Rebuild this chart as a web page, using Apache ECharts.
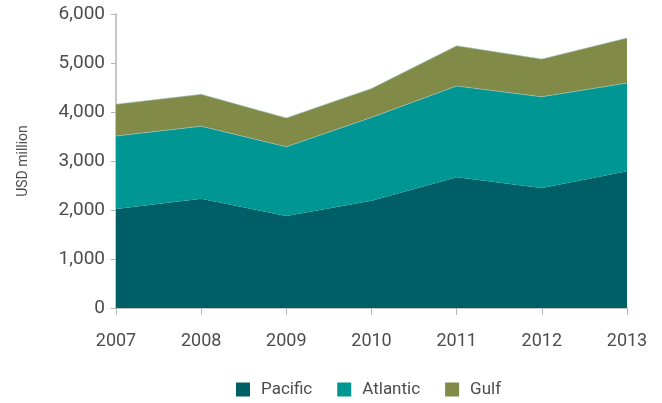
<!DOCTYPE html>
<html>
<head>
<meta charset="utf-8">
<script src="https://cdn.jsdelivr.net/npm/echarts@6/dist/echarts.min.js"></script>
<style>
  html, body { margin: 0; padding: 0; background: #fff; }
  #chart { width: 662px; height: 403px; }
</style>
</head>
<body>
<div id="chart"></div>
<script>
// --- data ---
const years = ['2007', '2008', '2009', '2010', '2011', '2012', '2013']
const pacific = [2020, 2230, 1880, 2190, 2670, 2450, 2790]
const atlantic = [1490, 1480, 1410, 1700, 1860, 1860, 1800]
const gulf = [650, 650, 590, 590, 820, 770, 920]

const colors = ['#005f66', '#009693', '#818a47']
const textColor = '#4d4d4d'
const font = 'Roboto'

const chart = echarts.init(document.getElementById('chart'))

const mkSeries = (name, data, i) => ({
  name,
  type: 'line',
  stack: 'total',
  data,
  symbol: 'none',
  lineStyle: { width: 0.6, color: '#9fc9c4', opacity: i === 0 ? 0 : 1 },
  areaStyle: { color: colors[i], opacity: 1 },
  itemStyle: { color: colors[i] },
  z: 2
})

chart.setOption({
  animation: false,
  grid: { left: 116, right: 35, top: 14, bottom: 95 },
  legend: {
    bottom: 0,
    left: 231,
    itemWidth: 14,
    itemHeight: 14,
    itemGap: 25,
    icon: 'rect',
    textStyle: { color: textColor, fontSize: 17, fontFamily: font, padding: [0, 0, 0, 6] },
    data: ['Pacific', 'Atlantic', 'Gulf']
  },
  xAxis: {
    type: 'category',
    data: years,
    boundaryGap: false,
    axisLine: { show: true, lineStyle: { color: '#b3b3b3', width: 1.5 } },
    axisTick: { show: true, length: 7, lineStyle: { color: '#b3b3b3' } },
    axisLabel: { color: textColor, fontSize: 18, fontFamily: font, margin: 24 },
    splitLine: { show: false }
  },
  yAxis: {
    type: 'value',
    min: 0,
    max: 6000,
    interval: 1000,
    name: 'USD million',
    nameLocation: 'middle',
    nameGap: 86,
    nameTextStyle: { color: textColor, fontSize: 14, fontFamily: font },
    axisLine: { show: true, lineStyle: { color: '#b3b3b3', width: 1.5 } },
    axisTick: { show: true, length: 5, lineStyle: { color: '#b3b3b3' } },
    axisLabel: {
      color: textColor,
      fontSize: 19,
      fontFamily: font,
      margin: 11,
      formatter: (v) => v.toLocaleString('en-US')
    },
    splitLine: { show: false }
  },
  series: [
    mkSeries('Pacific', pacific, 0),
    mkSeries('Atlantic', atlantic, 1),
    mkSeries('Gulf', gulf, 2)
  ]
})
</script>
</body>
</html>
